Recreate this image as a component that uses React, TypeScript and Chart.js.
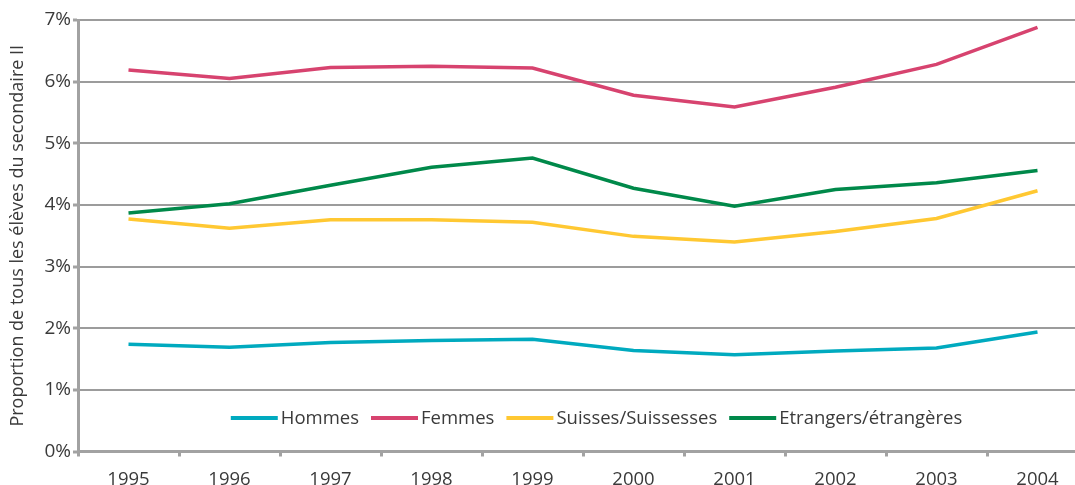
import React, { useEffect, useRef } from "react";
import { Chart, registerables } from "chart.js";

Chart.register(...registerables);

const years = ["1995", "1996", "1997", "1998", "1999", "2000", "2001", "2002", "2003", "2004"];
const hommes = [1.74, 1.69, 1.77, 1.8, 1.82, 1.64, 1.57, 1.63, 1.68, 1.94];
const femmes = [6.19, 6.05, 6.23, 6.25, 6.22, 5.78, 5.59, 5.91, 6.28, 6.88];
const suisses = [3.77, 3.62, 3.76, 3.76, 3.72, 3.49, 3.4, 3.57, 3.78, 4.23];
const etrangers = [3.87, 4.02, 4.32, 4.61, 4.76, 4.27, 3.98, 4.25, 4.36, 4.56];
const seriesLabels = ["Hommes", "Femmes", "Suisses/Suissesses", "Etrangers/étrangères"];
const seriesColors = ["#00AABF", "#D7436F", "#FFC832", "#00894A"];
const yTitle = "Proportion de tous les élèves du secondaire II";

const FONT = '"Open Sans", "Noto Sans", sans-serif';
const TEXT = "#3a3a3a";
const AXIS = "#a2a2a2";
const GRID = "#9c9c9c";

const legendPlugin = {
  id: "innerLegend",
  afterDraw(chart: any) {
    const ctx = chart.ctx;
    ctx.save();
    ctx.font = `18.5px ${FONT}`;
    const lineLen = 47;
    const gap = 3;
    const itemGap = 12;
    const ds = chart.data.datasets;
    const widths = ds.map((d: any) => lineLen + gap + ctx.measureText(d.label).width);
    const total = widths.reduce((a: number, b: number) => a + b, 0) + itemGap * (ds.length - 1);
    let x = 596.5 - total / 2;
    const y = 418;
    ds.forEach((d: any, i: number) => {
      ctx.strokeStyle = d.borderColor;
      ctx.lineWidth = 4;
      ctx.beginPath();
      ctx.moveTo(x, y);
      ctx.lineTo(x + lineLen, y);
      ctx.stroke();
      ctx.fillStyle = TEXT;
      ctx.textBaseline = "middle";
      ctx.textAlign = "left";
      ctx.fillText(d.label, x + lineLen + gap, y + 1);
      x += widths[i] + itemGap;
    });
    ctx.restore();
  },
};

export default function App() {
  const ref = useRef<HTMLCanvasElement>(null);
  useEffect(() => {
    if (!ref.current) return;
    const data = [hommes, femmes, suisses, etrangers];
    const chart = new Chart(ref.current, {
      type: "line",
      data: {
        labels: years,
        datasets: data.map((vals, i) => ({
          label: seriesLabels[i],
          data: vals,
          borderColor: seriesColors[i],
          backgroundColor: seriesColors[i],
          borderWidth: 3.5,
          pointRadius: 0,
          tension: 0,
          fill: false,
        })),
      },
      options: {
        responsive: false,
        animation: false,
        layout: { padding: { left: 0, top: 20, right: 12, bottom: 0 } },
        plugins: { legend: { display: false }, tooltip: { enabled: false } },
        scales: {
          x: {
            type: "category",
            offset: true,
            grid: {
              display: true,
              offset: true,
              drawOnChartArea: false,
              tickLength: 5,
              tickWidth: 3,
              tickColor: AXIS,
            },
            border: { display: true, width: 3, color: AXIS },
            ticks: {
              color: TEXT,
              font: { family: FONT, size: 18.5 },
              padding: 12,
              maxRotation: 0,
              autoSkip: false,
            },
            afterFit: (s: any) => {
              s.height = 48.5;
            },
          },
          y: {
            min: 0,
            max: 7,
            grid: {
              color: GRID,
              lineWidth: 2,
              tickLength: 5,
              tickWidth: 3,
              tickColor: AXIS,
            },
            border: { display: true, width: 3, color: AXIS },
            ticks: {
              stepSize: 1,
              color: TEXT,
              font: { family: FONT, size: 19 },
              padding: 2,
              callback: (v: any) => `${v}%`,
            },
            title: {
              display: true,
              text: yTitle,
              color: TEXT,
              font: { family: FONT, size: 18 },
              padding: { top: 7, bottom: 0 },
            },
            afterFit: (s: any) => {
              s.width = 78;
            },
          },
        },
      },
      plugins: [legendPlugin],
    });
    return () => chart.destroy();
  }, []);
  return (
    <div style={{ position: "fixed", left: 0, top: 0, width: "100vw", height: "100vh", overflow: "hidden", background: "#fff" }}>
      <canvas ref={ref} width={1100} height={500} style={{ position: "absolute", left: 0, top: 0, width: 1100, height: 500 }} />
    </div>
  );
}
